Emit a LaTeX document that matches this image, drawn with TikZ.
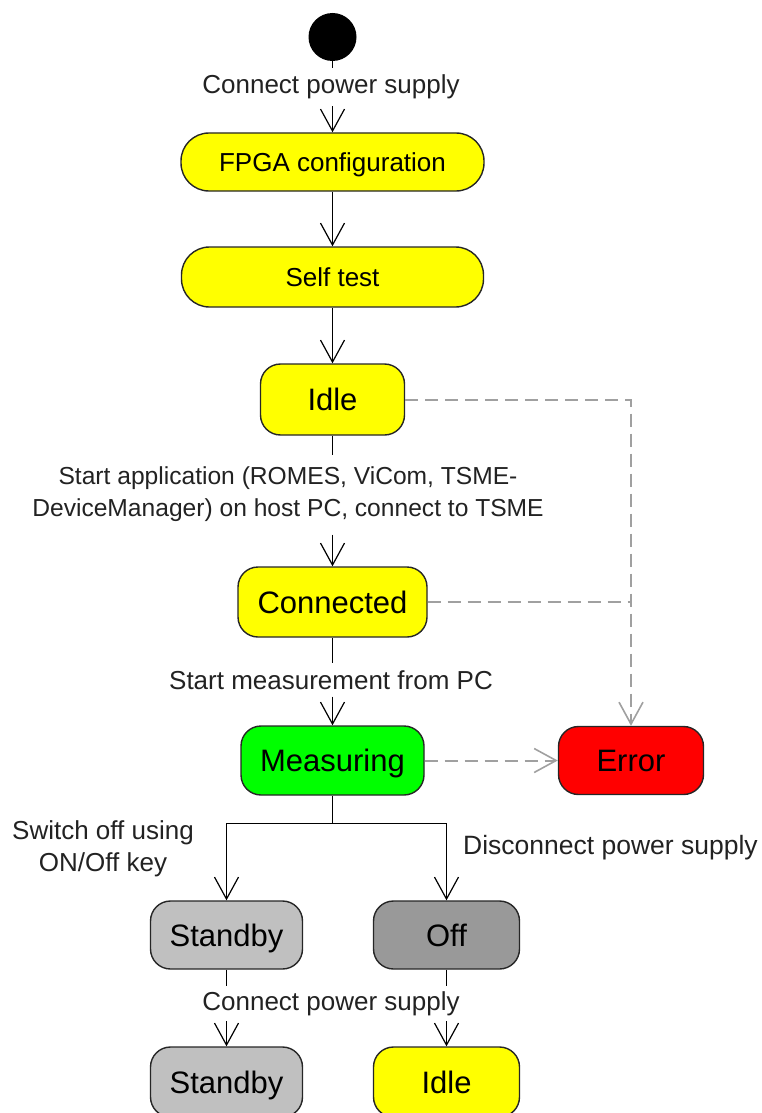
\documentclass[tikz,border=0pt]{standalone}
\usepackage{fontspec}
\setmainfont{Liberation Sans}
\usetikzlibrary{arrows.meta,calc}
\definecolor{stYellow}{HTML}{FFFF00}
\definecolor{stGreen}{HTML}{00FF00}
\definecolor{stRed}{HTML}{FF0000}
\definecolor{stLight}{HTML}{C0C0C0}
\definecolor{stDark}{HTML}{999999}
\definecolor{dashgray}{HTML}{A0A0A0}
\definecolor{lbltext}{HTML}{222222}
\tikzset{
  statebox/.style={draw=black!85, line width=1.4pt, rounded corners=20pt, inner sep=0pt,
    font=\fontsize{31}{36}\selectfont, text=black, text height=22pt, text depth=0pt},
  pillbox/.style={draw=black!85, line width=1.4pt, rounded corners=28pt, inner sep=0pt,
    fill=stYellow, font=\fontsize{26}{30}\selectfont, text=black, text height=18.6pt, text depth=0pt},
  lbl/.style={font=\fontsize{26}{32}\selectfont, text=lbltext, inner sep=7pt, align=center},
  flow/.style={line width=1.4pt, draw=black},
  flowarr/.style={flow, -{Straight Barb[length=22pt,width=24pt,line width=1.2pt]}},
  errarr/.style={line width=2pt, draw=dashgray, dash pattern=on 13pt off 7pt},
  errtip/.style={errarr, -{Straight Barb[length=22pt,width=24pt,line width=1.6pt]}}
}
\begin{document}
\begin{tikzpicture}[x=1pt,y=-1pt]
\useasboundingbox (0,0) rectangle (762,1113);
% start
\node (start) [circle, fill=black, minimum size=48pt, inner sep=0pt] at (332.5,37) {};
% states
\node (fpga) [pillbox, minimum width=303pt, minimum height=58pt] at (332.5,162) {FPGA configuration};
\node (self) [pillbox, minimum width=302pt, minimum height=60pt] at (332.5,277) {Self test};
\node (idle) [statebox, fill=stYellow, minimum width=144pt, minimum height=71pt] at (332.5,399.5) {Idle};
\node (conn) [statebox, fill=stYellow, minimum width=189pt, minimum height=70pt] at (332.5,602) {Connected};
\node (meas) [statebox, fill=stGreen, minimum width=183pt, minimum height=69pt] at (332.5,760.5) {Measuring};
\node (err) [statebox, fill=stRed, minimum width=145pt, minimum height=68pt] at (631,760.5) {Error};
\node (stb) [statebox, fill=stLight, minimum width=152pt, minimum height=68pt] at (226.5,935) {Standby};
\node (off) [statebox, fill=stDark, minimum width=146pt, minimum height=68pt] at (446.5,935) {Off};
\node (stbb) [statebox, fill=stLight, minimum width=152pt, minimum height=70pt] at (226.5,1082) {Standby};
\node (idleb) [statebox, fill=stYellow, minimum width=146pt, minimum height=70pt] at (446.5,1082) {Idle};
% labels
\node (l1) [lbl] at (331,87) {Connect power supply};
\node (l2) [lbl, font=\fontsize{24.6}{32}\selectfont] at (288,494) {Start application (ROMES, ViCom, TSME-\\DeviceManager) on host PC, connect to TSME};
\node (l3) [lbl] at (331,680) {Start measurement from PC};
\node (l4) [lbl, inner sep=0pt] at (103,849) {Switch off using\\ON/Off key};
\node (l5) [lbl, anchor=west, inner sep=0pt, font=\fontsize{26.5}{32}\selectfont] at (463,848) {Disconnect power supply};
\node (l6) [lbl] at (331,1004) {Connect power supply};
% solid flow
\draw[flow] (start.south) -- (start.south |- l1.north);
\draw[flowarr] (fpga.north |- l1.south) -- (fpga.north);
\draw[flowarr] (fpga.south) -- (self.north);
\draw[flowarr] (self.south) -- (idle.north);
\draw[flow] (idle.south) -- ($(idle.south |- l2.north)+(0,-4)$);
\draw[flowarr] ($(conn.north |- l2.south)+(0,6)$) -- (conn.north);
\draw[flow] (conn.south) -- (conn.south |- l3.north);
\draw[flowarr] (meas.north |- l3.south) -- (meas.north);
\coordinate (br) at ($(meas.south)+(0,28)$);
\draw[flow] (meas.south) -- (br);
\draw[flowarr] (br) -| (stb.north);
\draw[flowarr] (br) -| (off.north);
\draw[flow] (stb.south) -- ($(stb.south)+(0,16)$);
\draw[flow] (off.south) -- ($(off.south)+(0,16)$);
\draw[flowarr] ($(stbb.north)+(0,-25)$) -- (stbb.north);
\draw[flowarr] ($(idleb.north)+(0,-25)$) -- (idleb.north);
% dashed to error
\draw[errtip] (idle.east) -| (err.north);
\draw[errarr] (conn.east) -- (conn.east -| err.north);
\draw[errtip] (meas.east) -- (err.west);
\end{tikzpicture}
\end{document}
